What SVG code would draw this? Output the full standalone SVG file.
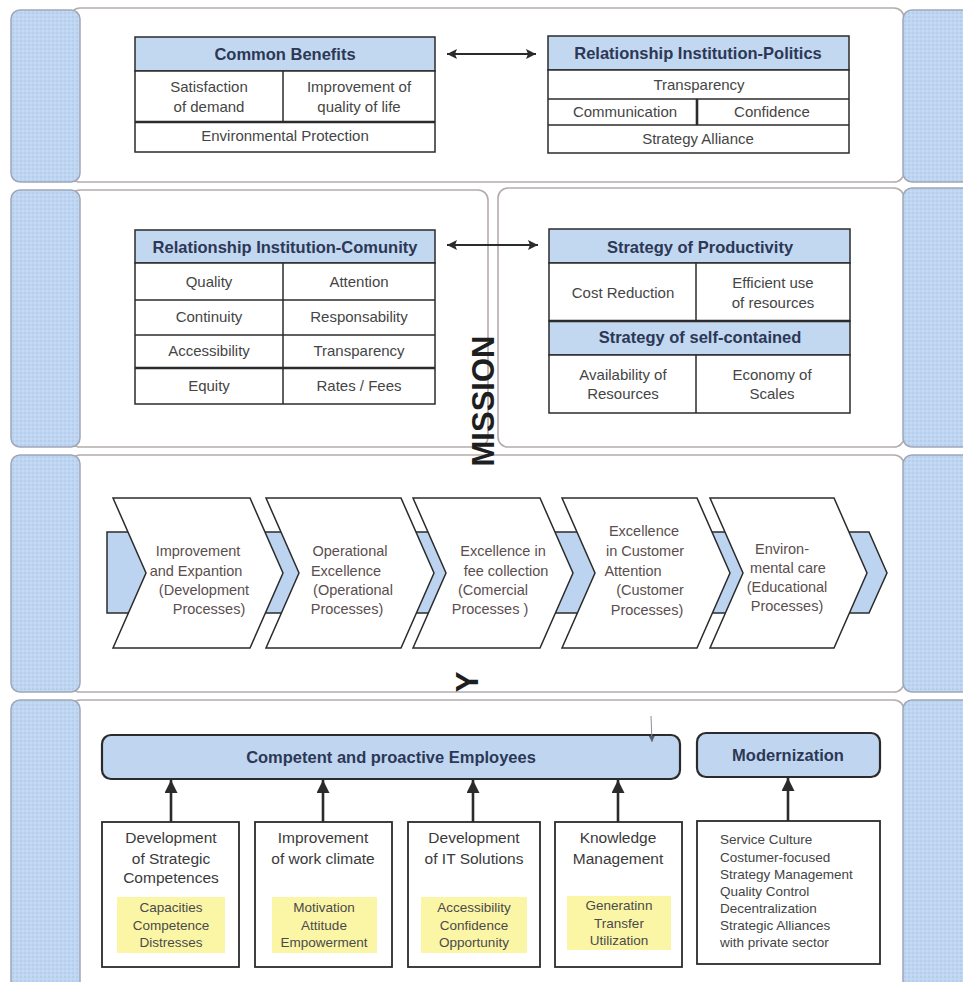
<svg xmlns="http://www.w3.org/2000/svg" width="963" height="982" viewBox="0 0 963 982">
<style>
  .strip { fill: url(#dots); stroke: #9ea6b8; stroke-width: 1.5; }
  .panel { fill: #ffffff; stroke: #b4acac; stroke-width: 1.6; }
  .cell { fill: #ffffff; stroke: #2b2b2b; stroke-width: 1.5; }
  .hdr { fill: #c2d7f0; stroke: #2b2b2b; stroke-width: 1.5; }
  .ln { stroke: #2b2b2b; stroke-width: 1.5; fill: none; }
  .lnb { stroke: #2b2b2b; stroke-width: 2.6; fill: none; }
  .ht { font-family: "Liberation Sans", Arial, sans-serif; font-weight: bold; font-size: 16.5px; fill: #2c3856; text-anchor: middle; }
  .t { font-family: "Liberation Sans", Arial, sans-serif; font-size: 15px; fill: #454545; text-anchor: middle; }
  .ct { font-family: "Liberation Sans", Arial, sans-serif; font-size: 14.5px; fill: #5a4e4e; text-anchor: middle; }
  .bt { font-family: "Liberation Sans", Arial, sans-serif; font-size: 15.5px; fill: #3a3a3a; text-anchor: middle; }
  .yt { font-family: "Liberation Sans", Arial, sans-serif; font-size: 13.5px; fill: #4a4a4a; text-anchor: middle; }
  .mt { font-family: "Liberation Sans", Arial, sans-serif; font-size: 13.5px; fill: #444444; }
  .big { font-family: "Liberation Sans", Arial, sans-serif; font-weight: bold; font-size: 31px; fill: #1e1e1e; text-anchor: middle; }
  .chev { fill: #ffffff; stroke: #2b2b2b; stroke-width: 1.5; }
  .band { fill: #bcd4f0; stroke: #2b2b2b; stroke-width: 1.5; }
  .bar { fill: #c0d6f0; stroke: #2b2b2b; stroke-width: 2.2; }
  .box { fill: #ffffff; stroke: #2b2b2b; stroke-width: 1.8; }
  .yel { fill: #fbf5a6; }
  .conn { stroke: #2b2b2b; stroke-width: 2.6; fill: none; }
  .conn2 { stroke: #2b2b2b; stroke-width: 2; fill: none; }
</style>
<defs>
  <pattern id="dots" width="4" height="4" patternUnits="userSpaceOnUse">
    <rect width="4" height="4" fill="#bed6f2"/>
    <circle cx="1" cy="1" r="0.7" fill="#a9c2e2"/>
    <circle cx="3" cy="3" r="0.7" fill="#cfe0f6"/>
  </pattern>
  <marker id="ah" viewBox="0 0 10 10" refX="10" refY="5" markerWidth="15" markerHeight="13" markerUnits="userSpaceOnUse" orient="auto-start-reverse">
    <path d="M0,0 L10,5 L0,10 z" fill="#2b2b2b"/>
  </marker>
  <marker id="ah2" viewBox="0 0 10 10" refX="10" refY="5" markerWidth="14" markerHeight="10" markerUnits="userSpaceOnUse" orient="auto-start-reverse">
    <path d="M0,0 L10,5 L0,10 L2,5 z" fill="#2b2b2b"/>
  </marker>
  <marker id="ahs" viewBox="0 0 10 10" refX="10" refY="5" markerWidth="7" markerHeight="6" markerUnits="userSpaceOnUse" orient="auto">
    <path d="M0,0 L10,5 L0,10 z" fill="#556070"/>
  </marker>
</defs>

<rect x="0" y="0" width="963" height="982" fill="#ffffff"/>

<g id="panels">
  <rect class="panel" x="70" y="8" width="834" height="174" rx="10"/>
  <rect class="panel" x="70" y="190" width="418" height="257" rx="10"/>
  <rect class="panel" x="498" y="188" width="406" height="259" rx="10"/>
  <rect class="panel" x="70" y="455" width="834" height="237" rx="10"/>
  <rect class="panel" x="70" y="700" width="834" height="300" rx="10"/>
</g>

<g id="strips">
  <rect class="strip" x="11" y="10" width="69" height="172" rx="9"/>
  <rect class="strip" x="11" y="190" width="69" height="257" rx="9"/>
  <rect class="strip" x="11" y="455" width="69" height="237" rx="9"/>
  <rect class="strip" x="11" y="700" width="69" height="300" rx="9"/>
  <rect class="strip" x="903" y="10" width="72" height="172" rx="9"/>
  <rect class="strip" x="903" y="188" width="72" height="259" rx="9"/>
  <rect class="strip" x="903" y="455" width="72" height="237" rx="9"/>
  <rect class="strip" x="903" y="700" width="72" height="300" rx="9"/>
</g>

<g id="common-benefits">
  <rect class="hdr" x="135" y="37" width="300" height="34"/>
  <rect class="cell" x="135" y="71" width="300" height="81"/>
  <line class="ln" x1="283" y1="71" x2="283" y2="122"/>
  <line class="lnb" x1="135" y1="122" x2="435" y2="122"/>
  <text class="ht" x="285" y="60">Common Benefits</text>
  <text class="t" x="209" y="92">Satisfaction</text>
  <text class="t" x="209" y="112">of demand</text>
  <text class="t" x="359" y="92">Improvement of</text>
  <text class="t" x="359" y="112">quality of life</text>
  <text class="t" x="285" y="141">Environmental Protection</text>
</g>

<g id="institution-politics">
  <rect class="hdr" x="548" y="36" width="301" height="34"/>
  <rect class="cell" x="548" y="70" width="301" height="83"/>
  <line class="ln" x1="548" y1="99" x2="849" y2="99"/>
  <line class="ln" x1="548" y1="125" x2="849" y2="125"/>
  <line class="lnb" x1="697" y1="99" x2="697" y2="125"/>
  <text class="ht" x="698" y="59">Relationship Institution-Politics</text>
  <text class="t" x="699" y="90">Transparency</text>
  <text class="t" x="625" y="117">Communication</text>
  <text class="t" x="772" y="117">Confidence</text>
  <text class="t" x="698" y="144">Strategy Alliance</text>
</g>

<g id="institution-community">
  <rect class="hdr" x="135" y="230" width="300" height="33"/>
  <rect class="cell" x="135" y="263" width="300" height="141"/>
  <line class="ln" x1="283" y1="263" x2="283" y2="404"/>
  <line class="ln" x1="135" y1="300" x2="435" y2="300"/>
  <line class="ln" x1="135" y1="335" x2="435" y2="335"/>
  <line class="lnb" x1="135" y1="368" x2="435" y2="368"/>
  <text class="ht" x="285" y="253">Relationship Institution-Comunity</text>
  <text class="t" x="209" y="287">Quality</text>
  <text class="t" x="359" y="287">Attention</text>
  <text class="t" x="209" y="322">Continuity</text>
  <text class="t" x="359" y="322">Responsability</text>
  <text class="t" x="209" y="356">Accessibility</text>
  <text class="t" x="359" y="356">Transparency</text>
  <text class="t" x="209" y="391">Equity</text>
  <text class="t" x="359" y="391">Rates / Fees</text>
</g>

<g id="strategy-productivity">
  <rect class="hdr" x="549" y="229" width="301" height="34"/>
  <rect class="cell" x="549" y="263" width="301" height="58"/>
  <rect class="hdr" x="549" y="321" width="301" height="34"/>
  <rect class="cell" x="549" y="355" width="301" height="58"/>
  <line class="lnb" x1="549" y1="321" x2="850" y2="321"/>
  <line class="ln" x1="696" y1="263" x2="696" y2="321"/>
  <line class="ln" x1="696" y1="355" x2="696" y2="413"/>
  <text class="ht" x="700" y="253">Strategy of Productivity</text>
  <text class="t" x="623" y="298">Cost Reduction</text>
  <text class="t" x="773" y="288">Efficient use</text>
  <text class="t" x="773" y="308">of resources</text>
  <text class="ht" x="700" y="343">Strategy of self-contained</text>
  <text class="t" x="623" y="380">Availability of</text>
  <text class="t" x="623" y="399">Resources</text>
  <text class="t" x="772" y="380">Economy of</text>
  <text class="t" x="772" y="399">Scales</text>
</g>

<g id="process-band">
  <polygon class="band" points="107,532 869,532 887,573 869,613 107,613"/>
</g>

<g id="chevron-1">
  <polygon class="chev" points="113,498 250,498 283,573 250,648 113,648 146,573"/>
  <text class="ct" x="198" y="556">Improvement</text>
  <text class="ct" x="196" y="576">and Expantion</text>
  <text class="ct" x="204" y="595">(Development</text>
  <text class="ct" x="209" y="614">Processes)</text>
</g>
<g id="chevron-2">
  <polygon class="chev" points="266,498 401,498 434,573 401,648 266,648 299,573"/>
  <text class="ct" x="350" y="556">Operational</text>
  <text class="ct" x="346" y="576">Excellence</text>
  <text class="ct" x="353" y="595">(Operational</text>
  <text class="ct" x="347" y="614">Processes)</text>
</g>
<g id="chevron-3">
  <polygon class="chev" points="413,498 540,498 573,573 540,648 413,648 446,573"/>
  <text class="ct" x="503" y="556">Excellence in</text>
  <text class="ct" x="506" y="576">fee collection</text>
  <text class="ct" x="493" y="595">(Comercial</text>
  <text class="ct" x="490" y="614">Processes )</text>
</g>
<g id="chevron-4">
  <polygon class="chev" points="562,498 697,498 730,573 697,648 562,648 595,573"/>
  <text class="ct" x="644" y="536">Excellence</text>
  <text class="ct" x="645" y="556">in Customer</text>
  <text class="ct" x="633" y="576">Attention</text>
  <text class="ct" x="650" y="595">(Customer</text>
  <text class="ct" x="647" y="615">Processes)</text>
</g>
<g id="chevron-5">
  <polygon class="chev" points="710,498 834,498 867,573 834,648 710,648 743,573"/>
  <text class="ct" x="782" y="554">Environ-</text>
  <text class="ct" x="788" y="573">mental care</text>
  <text class="ct" x="787" y="592">(Educational</text>
  <text class="ct" x="787" y="611">Processes)</text>
</g>

<g id="employees">
  <rect class="bar" x="102" y="735" width="578" height="44" rx="9"/>
  <text class="ht" x="391" y="763" font-size="17">Competent and proactive Employees</text>
</g>
<g id="modernization">
  <rect class="bar" x="697" y="733" width="183" height="44" rx="9"/>
  <text class="ht" x="788" y="761" font-size="17">Modernization</text>
</g>

<g id="box-strategic-competences">
  <rect class="box" x="102" y="822" width="137" height="145"/>
  <text class="bt" x="171" y="843">Development</text>
  <text class="bt" x="171" y="864">of Strategic</text>
  <text class="bt" x="171" y="883">Competences</text>
  <rect class="yel" x="117" y="897" width="108" height="56"/>
  <text class="yt" x="171" y="912">Capacities</text>
  <text class="yt" x="171" y="930">Competence</text>
  <text class="yt" x="171" y="947">Distresses</text>
</g>
<g id="box-work-climate">
  <rect class="box" x="255" y="822" width="137" height="145"/>
  <text class="bt" x="323" y="843">Improvement</text>
  <text class="bt" x="323" y="864">of work climate</text>
  <rect class="yel" x="272" y="897" width="105" height="56"/>
  <text class="yt" x="324" y="912">Motivation</text>
  <text class="yt" x="324" y="930">Attitude</text>
  <text class="yt" x="324" y="947">Empowerment</text>
</g>
<g id="box-it-solutions">
  <rect class="box" x="408" y="822" width="132" height="145"/>
  <text class="bt" x="474" y="843">Development</text>
  <text class="bt" x="474" y="864">of IT Solutions</text>
  <rect class="yel" x="421" y="897" width="106" height="56"/>
  <text class="yt" x="474" y="912">Accessibility</text>
  <text class="yt" x="474" y="930">Confidence</text>
  <text class="yt" x="474" y="947">Opportunity</text>
</g>
<g id="box-knowledge">
  <rect class="box" x="555" y="822" width="127" height="145"/>
  <text class="bt" x="618" y="843">Knowledge</text>
  <text class="bt" x="618" y="864">Management</text>
  <rect class="yel" x="567" y="896" width="104" height="54"/>
  <text class="yt" x="619" y="910">Generatinn</text>
  <text class="yt" x="619" y="928">Transfer</text>
  <text class="yt" x="619" y="945">Utilization</text>
</g>
<g id="box-modernization-items">
  <rect class="box" x="697" y="821" width="183" height="143"/>
  <text class="mt" x="720" y="844">Service Culture</text>
  <text class="mt" x="720" y="862">Costumer-focused</text>
  <text class="mt" x="720" y="879">Strategy Management</text>
  <text class="mt" x="720" y="896">Quality Control</text>
  <text class="mt" x="720" y="913">Decentralization</text>
  <text class="mt" x="720" y="930">Strategic Alliances</text>
  <text class="mt" x="720" y="947">with private sector</text>
</g>

<g id="connectors">
  <line class="conn2" x1="447" y1="54" x2="536" y2="54" marker-start="url(#ah2)" marker-end="url(#ah2)"/>
  <line class="conn2" x1="447" y1="245" x2="538" y2="245" marker-start="url(#ah2)" marker-end="url(#ah2)"/>
  <line class="conn" x1="171" y1="822" x2="171" y2="780" marker-end="url(#ah)"/>
  <line class="conn" x1="323" y1="822" x2="323" y2="780" marker-end="url(#ah)"/>
  <line class="conn" x1="473" y1="822" x2="473" y2="780" marker-end="url(#ah)"/>
  <line class="conn" x1="618" y1="822" x2="618" y2="780" marker-end="url(#ah)"/>
  <line class="conn" x1="788" y1="821" x2="788" y2="778" marker-end="url(#ah)"/>
  <line x1="651" y1="716" x2="652" y2="742" stroke="#8a8f9a" stroke-width="1" marker-end="url(#ahs)"/>
</g>

<g id="labels">
  <text class="big" transform="translate(494,401) rotate(-90)">MISSION</text>
  <text class="big" transform="translate(478,682) rotate(-90)">Y</text>
</g>
</svg>
